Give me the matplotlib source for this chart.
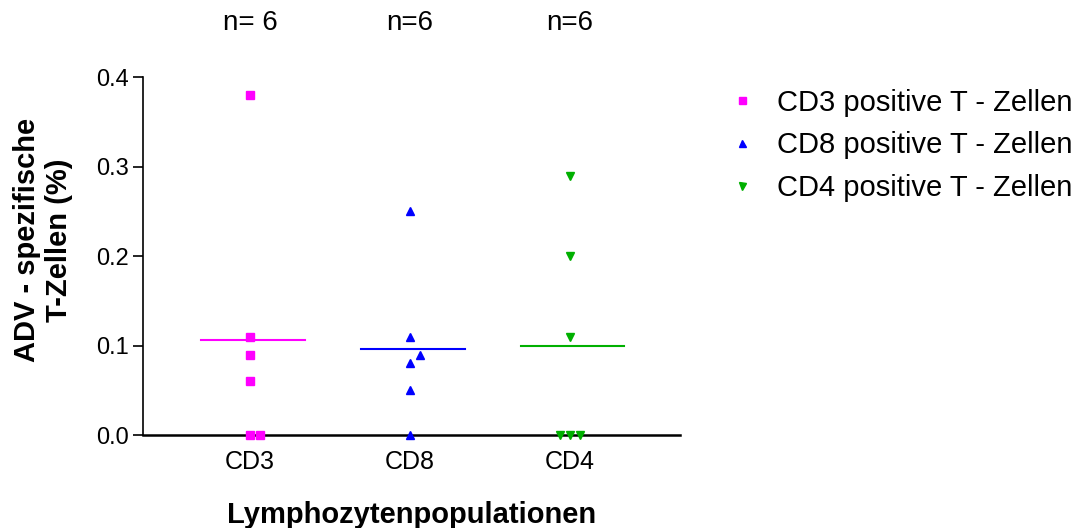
import matplotlib.pyplot as plt
import numpy as np

plt.rcParams['font.family'] = ['Liberation Sans', 'DejaVu Sans']

groups = ["CD3", "CD8", "CD4"]
legend_labels = ["CD3 positive T - Zellen", "CD8 positive T - Zellen", "CD4 positive T - Zellen"]
n_labels = ["n= 6", "n=6", "n=6"]
cd3_vals = [0.38, 0.11, 0.09, 0.06, 0.0, 0.0]
cd8_vals = [0.25, 0.11, 0.09, 0.08, 0.05, 0.0]
cd4_vals = [0.29, 0.20, 0.11, 0.0, 0.0, 0.0]

# horizontal spread of overlapping points (scatter layout)
cd3_shift = [0, 0, 0, 0, 0, 1]
cd8_shift = [0, 0, 1, 0, 0, 0]
cd4_shift = [0, 0, 0, -1, 0, 1]

colors = ["#ff00ff", "#0000ff", "#00b000"]
markers = ["s", "^", "v"]

fig = plt.figure(figsize=(10.75, 5.28), dpi=100)
ax = fig.add_axes([0.133, 0.176, 0.5, 0.678])

all_vals = [cd3_vals, cd8_vals, cd4_vals]
all_shift = [cd3_shift, cd8_shift, cd4_shift]
for i, (vals, sh) in enumerate(zip(all_vals, all_shift)):
    x = i + np.array(sh) * 0.0625
    ax.plot(x, vals, linestyle="none", marker=markers[i], color=colors[i],
            markersize=6.3, label=legend_labels[i], clip_on=False, zorder=3)
    m = np.mean(vals)
    ax.plot([i - 0.31, i + 0.34], [m, m], color=colors[i], lw=1.5)

ax.set_xlim(-0.67, 2.69)
ax.set_ylim(0, 0.4)
ax.set_yticks([0.0, 0.1, 0.2, 0.3, 0.4])
ax.set_yticklabels(["0.0", "0.1", "0.2", "0.3", "0.4"])
ax.set_xticks(range(3))
ax.set_xticklabels(groups)
ax.tick_params(axis="x", length=0, pad=11, labelsize=18)
ax.tick_params(axis="y", length=7, width=1.2, labelsize=17, pad=3)
ax.spines["top"].set_visible(False)
ax.spines["right"].set_visible(False)
ax.spines["left"].set_linewidth(1.2)
ax.spines["bottom"].set_linewidth(1.8)

for i, t in enumerate(n_labels):
    ax.text(i, 1.15, t, transform=ax.get_xaxis_transform(), ha="center", va="center",
            fontsize=20)

ax.set_xlabel("Lymphozytenpopulationen", fontsize=21, fontweight="bold", labelpad=19)
ax.set_ylabel("ADV - spezifische\nT-Zellen (%)", fontsize=21, fontweight="bold",
              linespacing=1.2)
ax.yaxis.set_label_coords(-0.13, 0.545)

fig.legend(loc="upper left", bbox_to_anchor=(0.652, 0.882), frameon=False,
           fontsize=21, markerscale=0.8, handlelength=1.0, handletextpad=0.7,
           labelspacing=0.5)

plt.savefig("out.png", dpi=100)
